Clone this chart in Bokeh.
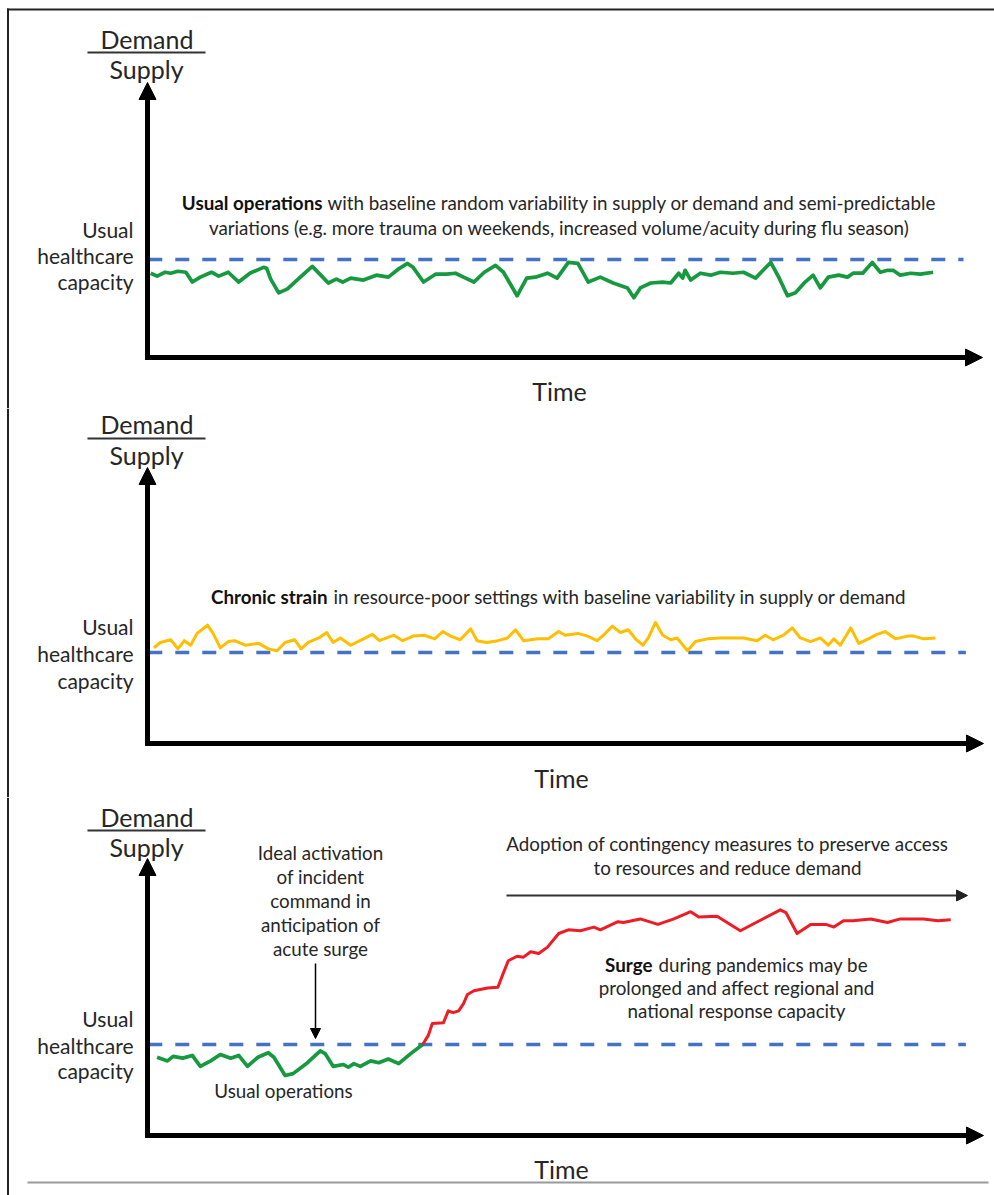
from bokeh.plotting import figure
from bokeh.models import Range1d, Label, Arrow, NormalHead, Span
from bokeh.layouts import column
from bokeh.embed import file_html
from bokeh.resources import INLINE

# ---------------- data (time units, demand/supply ratio; 1.0 = usual capacity) ----------------
capacity = 1.0

usual_t = [0.4, 1.2, 2.2, 2.9, 3.8, 4.8, 5.6, 6.6, 8.0, 8.9,
           10.1, 11.4, 12.8, 14.5, 14.9, 15.4, 16.4, 17.5, 19.1, 20.6,
           21.9, 22.6, 23.6, 24.4, 25.4, 27.0, 28.6, 30.1, 31.5, 32.5,
           33.2, 34.5, 36.0, 37.4, 38.5, 39.5, 40.8, 42.1, 43.5, 44.5,
           46.2, 47.4, 48.5, 50.0, 51.2, 52.6, 53.8, 55.1, 56.6, 58.2,
           60.0, 60.8, 61.6, 62.9, 64.4, 65.4, 66.4, 66.9, 67.2, 67.9,
           69.1, 70.4, 71.6, 73.2, 74.5, 76.0, 77.9, 78.9, 80.0, 81.0,
           82.2, 83.2, 84.1, 85.1, 86.4, 87.5, 88.2, 89.4, 90.6, 91.6,
           92.5, 93.2, 94.1, 95.4, 96.6, 98.2]
usual_ratio = [0.86, 0.83, 0.87, 0.86, 0.88, 0.87, 0.77, 0.82, 0.87, 0.83,
               0.87, 0.77, 0.86, 0.92, 0.91, 0.80, 0.66, 0.70, 0.82, 0.93,
               0.82, 0.76, 0.80, 0.77, 0.81, 0.79, 0.84, 0.82, 0.91, 0.96,
               0.92, 0.77, 0.85, 0.85, 0.86, 0.82, 0.77, 0.87, 0.94, 0.87,
               0.63, 0.81, 0.82, 0.86, 0.81, 0.97, 0.96, 0.77, 0.82, 0.76,
               0.71, 0.61, 0.71, 0.76, 0.77, 0.76, 0.86, 0.81, 0.89, 0.79,
               0.86, 0.84, 0.87, 0.86, 0.87, 0.81, 0.97, 0.82, 0.63, 0.66,
               0.77, 0.84, 0.71, 0.82, 0.84, 0.82, 0.86, 0.86, 0.97, 0.87,
               0.89, 0.89, 0.84, 0.86, 0.85, 0.87]

chronic_t = [0.8, 1.6, 2.9, 3.8, 4.6, 5.4, 6.2, 7.5, 8.2, 9.1,
             10.1, 10.9, 12.2, 13.9, 15.1, 16.2, 17.2, 18.4, 19.2, 20.1,
             21.4, 22.4, 23.2, 24.1, 25.4, 27.0, 28.1, 29.0, 30.8, 31.9,
             33.2, 34.6, 35.9, 36.9, 37.9, 39.1, 40.4, 41.2, 42.4, 43.8,
             45.0, 46.0, 47.0, 48.8, 50.1, 51.4, 52.2, 53.8, 55.0, 56.2,
             57.0, 58.1, 59.1, 60.1, 61.0, 61.9, 62.6, 63.5, 64.4, 65.4,
             66.2, 67.5, 68.5, 70.0, 71.6, 73.2, 74.5, 76.2, 77.2, 78.2,
             79.5, 80.6, 81.6, 82.9, 84.1, 85.1, 85.8, 86.6, 87.9, 88.9,
             90.1, 91.2, 92.2, 93.5, 95.0, 95.8, 97.0, 98.5]
chronic_ratio = [1.05, 1.11, 1.14, 1.04, 1.13, 1.08, 1.21, 1.30, 1.21, 1.05,
                 1.12, 1.13, 1.08, 1.10, 1.04, 1.02, 1.11, 1.14, 1.04, 1.11,
                 1.16, 1.22, 1.11, 1.16, 1.08, 1.15, 1.20, 1.13, 1.19, 1.13,
                 1.18, 1.19, 1.15, 1.23, 1.18, 1.14, 1.26, 1.13, 1.11, 1.13,
                 1.16, 1.25, 1.13, 1.15, 1.15, 1.23, 1.19, 1.21, 1.18, 1.13,
                 1.19, 1.29, 1.22, 1.25, 1.15, 1.08, 1.16, 1.33, 1.19, 1.14,
                 1.16, 1.02, 1.12, 1.15, 1.16, 1.16, 1.16, 1.13, 1.19, 1.14,
                 1.19, 1.27, 1.16, 1.12, 1.16, 1.08, 1.15, 1.08, 1.27, 1.10,
                 1.15, 1.20, 1.23, 1.15, 1.18, 1.18, 1.15, 1.16]

pre_surge_t = [1.2, 2.5, 3.2, 4.4, 5.6, 6.6, 7.9, 9.1, 10.4, 11.4,
               12.5, 13.8, 15.1, 15.8, 17.2, 18.2, 20.0, 21.6, 22.2, 23.2,
               24.5, 25.1, 25.8, 26.6, 27.9, 28.9, 30.1, 31.4, 32.9, 34.4]
pre_surge_ratio = [0.86, 0.82, 0.87, 0.85, 0.88, 0.76, 0.82, 0.89, 0.85, 0.88,
                   0.76, 0.86, 0.91, 0.86, 0.66, 0.68, 0.80, 0.93, 0.90, 0.76,
                   0.78, 0.75, 0.79, 0.76, 0.82, 0.80, 0.84, 0.79, 0.90, 1.00]

surge_t = [34.4, 35.1, 35.6, 37.0, 37.6, 38.2, 38.9, 39.5, 40.0, 40.8,
           42.5, 43.8, 44.5, 45.1, 46.2, 47.0, 47.9, 48.9, 50.0, 51.4,
           52.6, 54.1, 55.8, 56.6, 58.8, 59.5, 61.6, 63.8, 65.8, 67.9,
           68.9, 71.2, 74.1, 79.1, 79.8, 81.2, 82.9, 84.8, 85.8, 87.0,
           88.2, 90.4, 92.5, 94.1, 97.0, 98.8, 100.4]
surge_ratio = [1.00, 1.10, 1.23, 1.24, 1.37, 1.35, 1.37, 1.45, 1.55, 1.59,
               1.62, 1.63, 1.79, 1.92, 1.97, 1.96, 2.02, 2.00, 2.07, 2.22,
               2.26, 2.25, 2.29, 2.26, 2.35, 2.34, 2.38, 2.32, 2.38, 2.46,
               2.40, 2.41, 2.25, 2.48, 2.45, 2.22, 2.32, 2.32, 2.29, 2.36,
               2.36, 2.38, 2.34, 2.38, 2.38, 2.36, 2.37]

# extent of the dashed capacity line in each panel (time units)
capacity_span_1 = [0.1, 102.0]
capacity_span_23 = [0.1, 102.3]

# ---------------- layout / style ----------------
FONT = "Lato"
TEXT = "#262626"
GREEN = "#16993F"
YELLOW = "#FFBE00"
RED = "#EE1C24"
BLUE = "#4472C4"
FIG_W = 994
X_ORIGIN_PX = 147.0
PX_PER_T = 8.0
BASELINE_SHIFT = 0.34   # label anchor offset (fraction of font size)
ANN = 18.8              # annotation font size
BIG = 25                # axis-title font size
LAB = 21                # capacity label font size


def tx(px):
    return (px - X_ORIGIN_PX) / PX_PER_T


P1 = dict(top=0, height=408, base=357, scale=98.0)
P2 = dict(top=408, height=389, base=743, scale=91.0)
P3 = dict(top=797, height=398, base=1135, scale=91.0)


def ty(spec, py):
    return (spec["base"] - py) / spec["scale"]


def make_fig(spec):
    p = figure(width=FIG_W, height=spec["height"],
               x_range=Range1d(tx(0), tx(FIG_W)),
               y_range=Range1d(ty(spec, spec["top"] + spec["height"]), ty(spec, spec["top"])),
               output_backend="svg", toolbar_location=None,
               x_axis_location=None, y_axis_location=None, min_border=0)
    p.grid.visible = False
    p.outline_line_color = None
    p.background_fill_color = "white"
    p.border_fill_color = "white"
    return p


def label(p, spec, px, py, s, size, align="center", bold=False, color=TEXT):
    p.add_layout(Label(x=tx(px), y=ty(spec, py - BASELINE_SHIFT * size), text=s, text_font=FONT,
                       text_font_size=f"{size}px", text_align=align,
                       text_baseline="alphabetic",
                       text_font_style="bold" if bold else "normal",
                       text_color=color))


def axes_and_titles(p, spec, tip_y_px, tip_x_px, dem_base, sup_base, line_y, lab_bases, time_x, time_base):
    half = 2.5
    p.add_layout(Arrow(end=NormalHead(size=17, fill_color="black", line_color="black", line_width=1),
                       x_start=0, y_start=-half / spec["scale"], x_end=0, y_end=ty(spec, tip_y_px),
                       line_width=5, line_color="black"))
    p.add_layout(Arrow(end=NormalHead(size=17, fill_color="black", line_color="black", line_width=1),
                       x_start=-half / PX_PER_T, y_start=0, x_end=tx(tip_x_px), y_end=0,
                       line_width=5, line_color="black"))
    label(p, spec, 146.5, dem_base, "Demand", BIG)
    p.segment(x0=[tx(87)], x1=[tx(205)], y0=[ty(spec, line_y)], y1=[ty(spec, line_y)],
              line_color="#333333", line_width=2)
    label(p, spec, 146, sup_base, "Supply", BIG)
    for txt, b in zip(["Usual", "healthcare", "capacity"], lab_bases):
        label(p, spec, 133, b, txt, LAB, align="right")
    label(p, spec, time_x, time_base, "Time", BIG)


# ---------------- panel 1 ----------------
p1 = make_fig(P1)
p1.segment(x0=[tx(6.5)], x1=[tx(994)], y0=[ty(P1, 9)], y1=[ty(P1, 9)], line_color="#222222", line_width=2)
p1.segment(x0=[tx(7.5)], x1=[tx(7.5)], y0=[ty(P1, 8)], y1=[ty(P1, 420)], line_color="#222222", line_width=2)
axes_and_titles(p1, P1, 82, 982, 47, 77, 52, [236, 262, 288], 559, 399)
p1.line(capacity_span_1, [capacity, capacity], line_color=BLUE, line_width=3.5, line_dash="14 13")
p1.line(usual_t, usual_ratio, line_color=GREEN, line_width=3.7, line_join="round")
label(p1, P1, 322, 208, "Usual operations", ANN, align="right", bold=True, color="#111111")
label(p1, P1, 327, 208, "with baseline random variability in supply or demand and semi-predictable", ANN, align="left")
label(p1, P1, 559, 233, "variations (e.g. more trauma on weekends, increased volume/acuity during flu season)", ANN)

# ---------------- panel 2 ----------------
p2 = make_fig(P2)
p2.add_layout(Span(location=tx(7.5), dimension="height", line_color="#222222", line_width=2))
axes_and_titles(p2, P2, 467, 983, 432, 463, 438, [633, 660, 687], 561, 786)
p2.line(capacity_span_23, [capacity, capacity], line_color=BLUE, line_width=3.5, line_dash="14 13")
p2.line(chronic_t, chronic_ratio, line_color=YELLOW, line_width=3, line_join="round")
label(p2, P2, 327, 602, "Chronic strain", ANN, align="right", bold=True, color="#111111")
label(p2, P2, 333, 602, "in resource-poor settings with baseline variability in supply or demand", ANN, align="left")

# ---------------- panel 3 ----------------
p3 = make_fig(P3)
p3.add_layout(Span(location=tx(7.5), dimension="height", line_color="#222222", line_width=2))
axes_and_titles(p3, P3, 858, 983, 825, 855, 830, [1025, 1052, 1077], 561, 1177)
p3.line(capacity_span_23, [capacity, capacity], line_color=BLUE, line_width=3.5, line_dash="14 13")
p3.line(pre_surge_t, pre_surge_ratio, line_color=GREEN, line_width=3.7, line_join="round")
p3.line(surge_t, surge_ratio, line_color=RED, line_width=3, line_join="round")
for i, s in enumerate(["Ideal activation", "of incident", "command in", "anticipation of", "acute surge"]):
    label(p3, P3, 320, 858 + 24 * i, s, ANN)
p3.add_layout(Arrow(end=NormalHead(size=10, fill_color="black", line_color="black", line_width=1),
                    x_start=tx(315), y_start=ty(P3, 963), x_end=tx(315), y_end=ty(P3, 1038),
                    line_width=1.5, line_color="black"))
label(p3, P3, 283, 1096, "Usual operations", ANN)
label(p3, P3, 727, 849, "Adoption of contingency measures to preserve access", ANN)
label(p3, P3, 727, 873, "to resources and reduce demand", ANN)
p3.add_layout(Arrow(end=NormalHead(size=11, fill_color="#222222", line_color="#222222", line_width=1),
                    x_start=tx(506), y_start=ty(P3, 895), x_end=tx(967), y_end=ty(P3, 895),
                    line_width=2, line_color="#333333"))
label(p3, P3, 652, 970, "Surge", ANN, align="right", bold=True, color="#111111")
label(p3, P3, 658, 970, "during pandemics may be", ANN, align="left")
label(p3, P3, 736, 993, "prolonged and affect regional and", ANN)
label(p3, P3, 736, 1016, "national response capacity", ANN)
p3.segment(x0=[tx(27)], x1=[tx(988)], y0=[ty(P3, 1182)], y1=[ty(P3, 1182)],
           line_color="#9A9A9A", line_width=2)

layout = column(p1, p2, p3)
open("out.html", "w").write(file_html(layout, INLINE, "Demand and supply"))
